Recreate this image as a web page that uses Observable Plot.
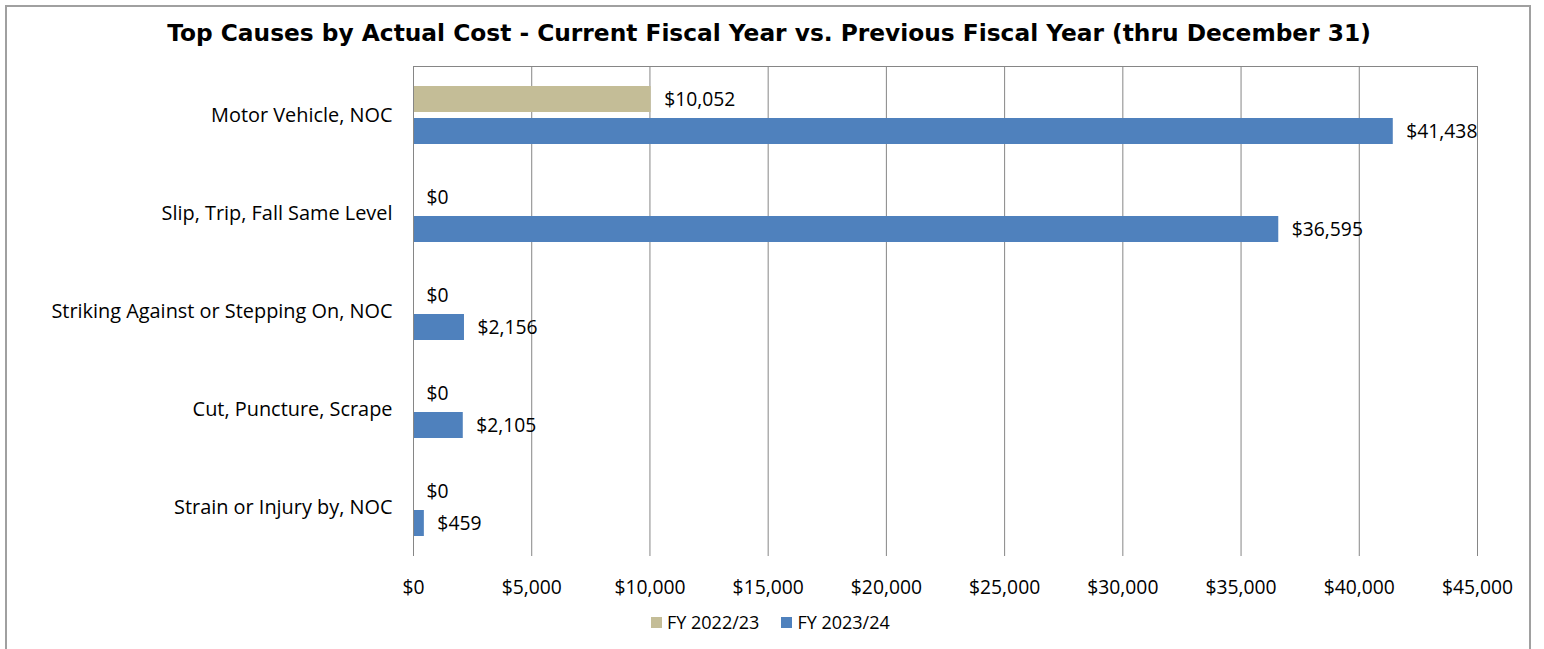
<!DOCTYPE html>
<html>
<head>
<meta charset="utf-8">
<script src="https://cdn.jsdelivr.net/npm/d3@7"></script>
<script src="https://cdn.jsdelivr.net/npm/@observablehq/plot@0.6"></script>
<style>
  html, body { margin: 0; padding: 0; background: #fff; overflow: hidden; }
  #wrap { position: relative; width: 1544px; height: 649px; }
  #border { position: absolute; left: 5px; top: 5px; width: 1522px; height: 700px; border: 2px solid #a0a0a0; }
  #title { position: absolute; left: 0; top: 19px; width: 1538px; text-align: center;
    font: bold 23.3px "DejaVu Sans", Verdana, sans-serif; line-height: 28px; color: #000; white-space: nowrap; }
  #chart { position: absolute; left: 0; top: 0; }
  #legend { position: absolute; left: 651px; top: 611px; font: 18px "Open Sans", sans-serif; color: #000;
    display: flex; align-items: center; line-height: 22px; white-space: nowrap; }
  #legend .sw { display: inline-block; width: 11px; height: 11px; margin-right: 5px; }
  #legend .item { display: flex; align-items: center; margin-right: 22px; }
</style>
</head>
<body>
<div id="wrap">
  <div id="border"></div>
  <div id="title"></div>
  <div id="chart"></div>
  <div id="legend"></div>
</div>
<script>
const titleText = "Top Causes by Actual Cost - Current Fiscal Year vs. Previous Fiscal Year (thru December 31)";
const causes = [
  "Motor Vehicle, NOC",
  "Slip, Trip, Fall Same Level",
  "Striking Against or Stepping On, NOC",
  "Cut, Puncture, Scrape",
  "Strain or Injury by, NOC"
];
const seriesNames = ["FY 2022/23", "FY 2023/24"];
const prevYear = [10052, 0, 0, 0, 0];
const currYear = [41438, 36595, 2156, 2105, 459];
const xTicks = [0, 5000, 10000, 15000, 20000, 25000, 30000, 35000, 40000, 45000];
const colors = ["#C4BD97", "#4F81BD"];

const data = [];
causes.forEach((c, i) => {
  data.push({cause: c, series: seriesNames[0], value: prevYear[i]});
  data.push({cause: c, series: seriesNames[1], value: currYear[i]});
});

const money = v => "$" + d3.format(",")(v);
const font = '"Open Sans", sans-serif';

const chart = Plot.plot({
  width: 1544,
  height: 600,
  marginTop: 65,
  marginBottom: 43,
  marginLeft: 413,
  marginRight: 67,
  style: {fontFamily: font, fontSize: "19px", color: "#000", background: "transparent"},
  x: {domain: [0, 45000], ticks: xTicks, tickFormat: money, label: null},
  y: {domain: seriesNames, paddingInner: 0.18, paddingOuter: 0.59, axis: null},
  fy: {domain: causes, padding: 0, label: null},
  color: {domain: seriesNames, range: colors},
  marks: [
    Plot.gridX({ticks: xTicks, stroke: "#868686", strokeOpacity: 1, strokeWidth: 1}),
    Plot.barX(data, {x: "value", y: "series", fy: "cause", fill: "series"}),
    Plot.text(data, {x: "value", y: "series", fy: "cause", text: d => money(d.value),
      textAnchor: "start", dx: 13, fill: "#000", fontSize: 19.3}),
    Plot.ruleX([0], {stroke: "#868686"}),
    Plot.frame({anchor: "top", facetAnchor: "top", stroke: "#868686"}),
    Plot.axisX({ticks: xTicks, tickFormat: money, tickSize: 0, tickPadding: 24, label: null, fontSize: 19.3}),
    Plot.axisFy({anchor: "left", tickSize: 0, tickPadding: 21, label: null, fontSize: 19.9})
  ]
});
document.getElementById("chart").appendChild(chart);
document.getElementById("title").textContent = titleText;

const legend = document.getElementById("legend");
seriesNames.forEach((s, i) => {
  const item = document.createElement("span");
  item.className = "item";
  const sw = document.createElement("span");
  sw.className = "sw";
  sw.style.background = colors[i];
  item.appendChild(sw);
  item.appendChild(document.createTextNode(s));
  legend.appendChild(item);
});
</script>
</body>
</html>
